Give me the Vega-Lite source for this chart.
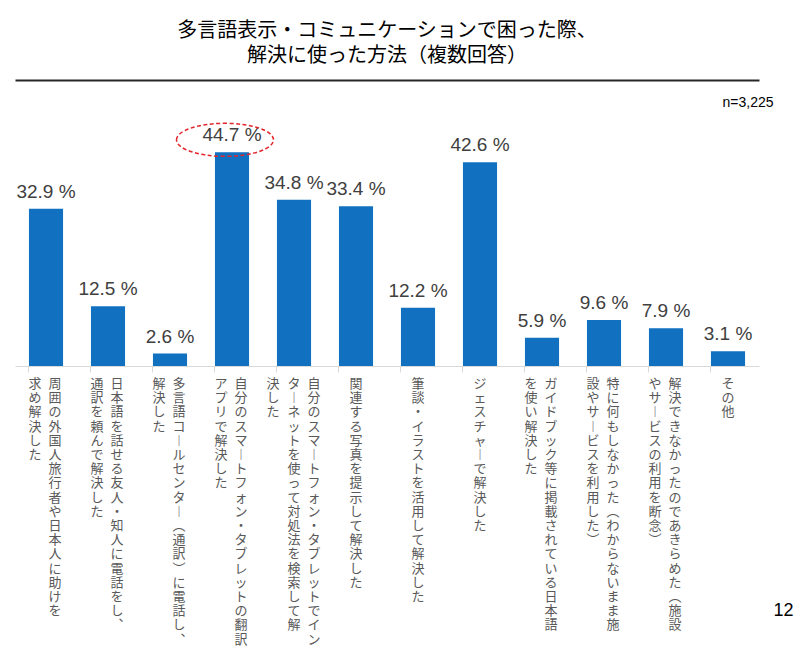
{
  "$schema": "https://vega.github.io/schema/vega-lite/v6.json",
  "width": 744,
  "height": 239,
  "autosize": {"type": "none"},
  "padding": {"left": 15, "top": 127, "right": 41, "bottom": 289},
  "background": "white",
  "title": {
    "text": ["多言語表示・コミュニケーションで困った際、", "解決に使った方法（複数回答）"],
    "anchor": "middle",
    "frame": "group",
    "font": "Noto Sans CJK JP",
    "fontSize": 20,
    "fontWeight": "normal",
    "color": "#000000",
    "lineHeight": 25,
    "offset": 14
  },
  "data": {
    "values": [
      {"cat": "周囲の外国人旅行者や日本人に助けを求め解決した", "c1": "周囲の外国人旅行者や日本人に助けを", "c2": "求め解決した", "value": 32.9},
      {"cat": "日本語を話せる友人・知人に電話をし、通訳を頼んで解決した", "c1": "日本語を話せる友人・知人に電話をし、", "c2": "通訳を頼んで解決した", "value": 12.5},
      {"cat": "多言語コールセンター（通訳）に電話し、解決した", "c1": "多言語コールセンター（通訳）に電話し、", "c2": "解決した", "value": 2.6},
      {"cat": "自分のスマートフォン・タブレットの翻訳アプリで解決した", "c1": "自分のスマートフォン・タブレットの翻訳", "c2": "アプリで解決した", "value": 44.7},
      {"cat": "自分のスマートフォン・タブレットでインターネットを使って対処法を検索して解決した", "c1": "自分のスマートフォン・タブレットでイン", "c2": "ターネットを使って対処法を検索して解", "c3": "決した", "value": 34.8},
      {"cat": "関連する写真を提示して解決した", "c1": "関連する写真を提示して解決した", "value": 33.4},
      {"cat": "筆談・イラストを活用して解決した", "c1": "筆談・イラストを活用して解決した", "value": 12.2},
      {"cat": "ジェスチャーで解決した", "c1": "ジェスチャーで解決した", "value": 42.6},
      {"cat": "ガイドブック等に掲載されている日本語を使い解決した", "c1": "ガイドブック等に掲載されている日本語", "c2": "を使い解決した", "value": 5.9},
      {"cat": "特に何もしなかった（わからないまま施設やサービスを利用した）", "c1": "特に何もしなかった（わからないまま施", "c2": "設やサービスを利用した）", "value": 9.6},
      {"cat": "解決できなかったのであきらめた（施設やサービスの利用を断念）", "c1": "解決できなかったのであきらめた（施設", "c2": "やサービスの利用を断念）", "value": 7.9},
      {"cat": "その他", "c1": "その他", "value": 3.1}
    ]
  },
  "transform": [
    {"calculate": "format(datum.value, '.1f') + ' %'", "as": "label"},
    {"calculate": "datum.c1 ? join(split(join(split(join(split(join(split(join(split(datum.c1,'ー'),'︱'),'（'),'︵'),'）'),'︶'),'、'),'︑'), ''), '\\n') : ''", "as": "v1"},
    {"calculate": "datum.c2 ? join(split(join(split(join(split(join(split(join(split(datum.c2,'ー'),'︱'),'（'),'︵'),'）'),'︶'),'、'),'︑'), ''), '\\n') : ''", "as": "v2"},
    {"calculate": "datum.c3 ? join(split(join(split(join(split(join(split(join(split(datum.c3,'ー'),'︱'),'（'),'︵'),'）'),'︶'),'、'),'︑'), ''), '\\n') : ''", "as": "v3"},
    {"joinaggregate": [{"op": "max", "field": "value", "as": "maxv"}]}
  ],
  "encoding": {
    "x": {"field": "cat", "type": "nominal", "sort": null, "axis": null}
  },
  "layer": [
    {
      "mark": {"type": "bar", "color": "#1170BF"},
      "encoding": {
        "x": {
          "field": "cat", "type": "nominal", "sort": null,
          "scale": {"paddingInner": 0.45, "paddingOuter": 0.225},
          "axis": {
            "orient": "bottom", "labels": false, "domain": true, "domainColor": "#d9d9d9", "domainWidth": 1,
            "ticks": true, "tickColor": "#d9d9d9", "tickSize": 6, "bandPosition": 0, "grid": false,
            "title": "12", "titleFont": "Liberation Sans", "titleFontSize": 18, "titleFontWeight": "normal",
            "titleColor": "#000000", "titleX": 768, "titleY": 249, "titleAlign": "center", "titleBaseline": "alphabetic"
          }
        },
        "y": {"field": "value", "type": "quantitative", "scale": {"domain": [0, 50], "nice": false, "zero": true}, "axis": null}
      }
    },
    {
      "mark": {"type": "text", "font": "Liberation Sans", "fontSize": 19, "color": "#404040", "baseline": "alphabetic", "align": "center", "dy": -11},
      "encoding": {
        "x": {
          "field": "cat", "type": "nominal", "sort": null,
          "axis": {
            "orient": "top", "offset": 47, "labels": false, "ticks": false, "domain": true,
            "domainColor": "#262626", "domainWidth": 2, "grid": false,
            "title": "n=3,225", "titleFont": "Liberation Sans", "titleFontSize": 14, "titleFontWeight": "normal",
            "titleColor": "#000000", "titleX": 758, "titleY": 26, "titleAlign": "right", "titleBaseline": "alphabetic"
          }
        },
        "y": {"field": "value", "type": "quantitative", "axis": null},
        "text": {"field": "label", "type": "nominal"}
      }
    },
    {
      "transform": [{"filter": "datum.value == datum.maxv"}],
      "mark": {"type": "point", "shape": "M-1,0A1,0.34,0,1,1,1,0A1,0.34,0,1,1,-1,0Z", "size": 9409, "filled": false, "stroke": "#e3262b", "strokeWidth": 1.5, "strokeDash": [4, 2.5], "opacity": 1, "xOffset": -7, "yOffset": -12.5},
      "encoding": {
        "y": {"field": "value", "type": "quantitative", "axis": null}
      }
    },
    {
      "transform": [{"filter": "!datum.c2"}],
      "mark": {"type": "text", "font": "Noto Sans CJK JP", "fontSize": 13, "lineHeight": 14.2, "color": "#595959", "baseline": "top", "align": "center", "dy": 12, "dx": 0, "lineBreak": "\n"},
      "encoding": {"y": {"datum": 0, "type": "quantitative", "axis": null}, "text": {"field": "v1", "type": "nominal"}}
    },
    {
      "transform": [{"filter": "datum.c2 && !datum.c3"}],
      "mark": {"type": "text", "font": "Noto Sans CJK JP", "fontSize": 13, "lineHeight": 14.2, "color": "#595959", "baseline": "top", "align": "center", "dy": 12, "dx": 9, "lineBreak": "\n"},
      "encoding": {"y": {"datum": 0, "type": "quantitative", "axis": null}, "text": {"field": "v1", "type": "nominal"}}
    },
    {
      "transform": [{"filter": "datum.c2 && !datum.c3"}],
      "mark": {"type": "text", "font": "Noto Sans CJK JP", "fontSize": 13, "lineHeight": 14.2, "color": "#595959", "baseline": "top", "align": "center", "dy": 12, "dx": -11, "lineBreak": "\n"},
      "encoding": {"y": {"datum": 0, "type": "quantitative", "axis": null}, "text": {"field": "v2", "type": "nominal"}}
    },
    {
      "transform": [{"filter": "datum.c3"}],
      "mark": {"type": "text", "font": "Noto Sans CJK JP", "fontSize": 13, "lineHeight": 14.2, "color": "#595959", "baseline": "top", "align": "center", "dy": 12, "dx": 20, "lineBreak": "\n"},
      "encoding": {"y": {"datum": 0, "type": "quantitative", "axis": null}, "text": {"field": "v1", "type": "nominal"}}
    },
    {
      "transform": [{"filter": "datum.c3"}],
      "mark": {"type": "text", "font": "Noto Sans CJK JP", "fontSize": 13, "lineHeight": 14.2, "color": "#595959", "baseline": "top", "align": "center", "dy": 12, "dx": 0, "lineBreak": "\n"},
      "encoding": {"y": {"datum": 0, "type": "quantitative", "axis": null}, "text": {"field": "v2", "type": "nominal"}}
    },
    {
      "transform": [{"filter": "datum.c3"}],
      "mark": {"type": "text", "font": "Noto Sans CJK JP", "fontSize": 13, "lineHeight": 14.2, "color": "#595959", "baseline": "top", "align": "center", "dy": 12, "dx": -21, "lineBreak": "\n"},
      "encoding": {"y": {"datum": 0, "type": "quantitative", "axis": null}, "text": {"field": "v3", "type": "nominal"}}
    }
  ],
  "resolve": {"axis": {"x": "independent"}},
  "config": {"view": {"stroke": null}}
}
